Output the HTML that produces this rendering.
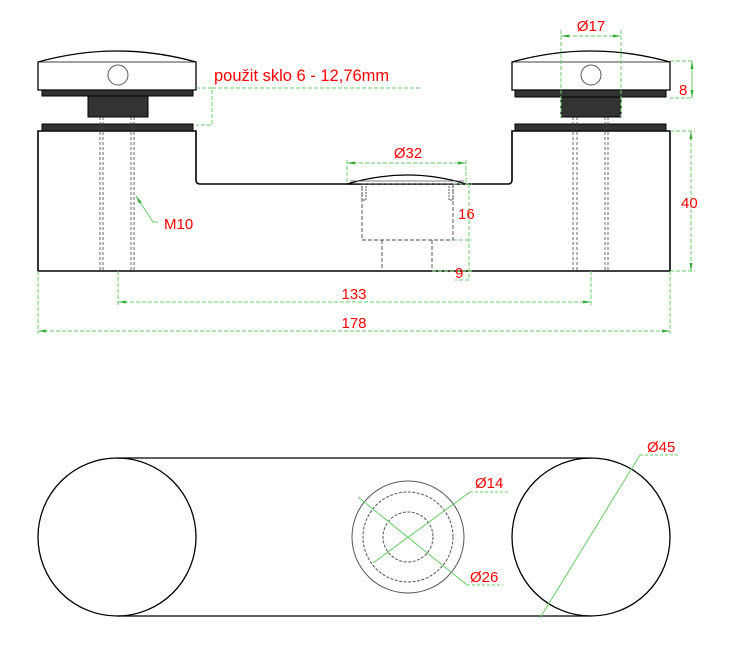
<!DOCTYPE html>
<html><head><meta charset="utf-8"><style>
html,body{margin:0;padding:0;background:#fff;}
svg{display:block;}
text{font-family:"Liberation Sans",sans-serif;fill:#f00;}
</style></head><body>
<svg width="749" height="645" viewBox="0 0 749 645" xmlns="http://www.w3.org/2000/svg">
<defs>
<marker id="a" markerWidth="8" markerHeight="6" refX="8" refY="3" orient="auto"><path d="M0,1.5 L8,3 L0,4.5z" fill="#3a3"/></marker>
<marker id="b" markerWidth="8" markerHeight="6" refX="0" refY="3" orient="auto"><path d="M8,1.5 L0,3 L8,4.5z" fill="#3a3"/></marker>
</defs>
<!-- Body -->
<path d="M38,271 L38,131 L196,131 L196,180 Q196,184 200,184 L508,184 Q512,184 512,180 L512,131 L670,131 L670,271 Z" fill="#fff" stroke="#000" stroke-width="1.6"/>
<!-- caps -->
<g stroke="#000" stroke-width="1.3">
<path d="M38,90 L38,62 Q117,40 196,62 L196,90 Z" fill="#fff"/>
<line x1="38" y1="62" x2="196" y2="62" stroke-width="0.8"/>
<path d="M512,90 L512,62 Q591,40 670,62 L670,90 Z" fill="#fff"/>
<line x1="512" y1="62" x2="670" y2="62" stroke-width="0.8"/>
</g>
<circle cx="118" cy="75" r="10" fill="none" stroke="#555" stroke-width="1"/>
<circle cx="591" cy="75" r="10" fill="none" stroke="#555" stroke-width="1"/>
<g fill="#333" stroke="#000" stroke-width="1">
<rect x="42" y="90" width="151" height="6"/>
<rect x="88" y="96" width="60" height="21"/>
<rect x="42" y="124" width="151" height="7"/>
<rect x="515" y="90" width="151" height="7"/>
<rect x="561" y="97" width="60" height="20"/>
<rect x="515" y="124" width="151" height="7"/>
</g>
<!-- bolts dashed -->
<g stroke="#444" stroke-width="0.8" stroke-dasharray="3,2">
<line x1="100" y1="117" x2="100" y2="271"/><line x1="103" y1="117" x2="103" y2="271"/>
<line x1="131" y1="117" x2="131" y2="271"/><line x1="134" y1="117" x2="134" y2="271"/>
<line x1="573" y1="117" x2="573" y2="271"/><line x1="577" y1="117" x2="577" y2="271"/>
<line x1="605" y1="117" x2="605" y2="271"/><line x1="608" y1="117" x2="608" y2="271"/>
</g>
<!-- center cap -->
<path d="M347,184 Q408,166 466,184 Z" fill="#fff" stroke="#000" stroke-width="1.2"/>
<line x1="350" y1="181" x2="464" y2="181" stroke="#555" stroke-width="0.8"/>
<g fill="none" stroke="#444" stroke-width="0.9" stroke-dasharray="4,2">
<rect x="362" y="184" width="91" height="56"/>
<line x1="382" y1="240" x2="382" y2="271"/><line x1="432" y1="240" x2="432" y2="271"/>
<rect x="362" y="184" width="4" height="16" stroke-dasharray="2,1"/>
<rect x="449" y="184" width="4" height="16" stroke-dasharray="2,1"/>
</g>
<!-- dimensions green -->
<g stroke="#6c6" stroke-width="1" stroke-dasharray="4,2" fill="none">
<!-- glass bracket -->
<polyline points="196,88 212,88 212,125 196,125"/>
<line x1="212" y1="88" x2="422" y2="88"/>
<!-- Ø17 -->
<line x1="561" y1="30" x2="561" y2="117"/><line x1="621" y1="30" x2="621" y2="117"/>
<line x1="561" y1="36" x2="621" y2="36" marker-start="url(#b)" marker-end="url(#a)"/>
<!-- 8 -->
<polyline points="670,61 692,61 692,98 670,98"/>
<line x1="692" y1="61" x2="692" y2="98" marker-start="url(#b)" marker-end="url(#a)"/>
<!-- 40 -->
<line x1="670" y1="131" x2="695" y2="131"/><line x1="670" y1="271" x2="695" y2="271"/>
<line x1="691" y1="131" x2="691" y2="271" marker-start="url(#b)" marker-end="url(#a)"/>
<!-- Ø32 -->
<line x1="347" y1="160" x2="347" y2="184"/><line x1="466" y1="160" x2="466" y2="184"/>
<line x1="347" y1="163" x2="466" y2="163" marker-start="url(#b)" marker-end="url(#a)"/>
<!-- 16 / 9 -->
<line x1="453" y1="184" x2="472" y2="184"/><line x1="453" y1="240" x2="472" y2="240"/>
<line x1="432" y1="271" x2="472" y2="271"/>
<polyline points="469,184 469,280 455,280"/>
<!-- 133 -->
<line x1="118" y1="271" x2="118" y2="305"/><line x1="591" y1="271" x2="591" y2="305"/>
<line x1="118" y1="302" x2="591" y2="302" marker-start="url(#b)" marker-end="url(#a)"/>
<!-- 178 -->
<line x1="38" y1="271" x2="38" y2="334"/><line x1="670" y1="271" x2="670" y2="334"/>
<line x1="38" y1="331" x2="670" y2="331" marker-start="url(#b)" marker-end="url(#a)"/>
</g>
<polyline points="136,196 153,222 158,222" fill="none" stroke="#6c6" stroke-width="1" marker-start="url(#b)"/>
<!-- texts top -->
<text x="214" y="81" font-size="16.5">použit sklo 6 - 12,76mm</text>
<text x="591" y="31" font-size="15" text-anchor="middle">Ø17</text>
<text x="679" y="95" font-size="15">8</text>
<text x="681" y="208" font-size="15">40</text>
<text x="408" y="158" font-size="15" text-anchor="middle">Ø32</text>
<text x="458" y="219" font-size="15">16</text>
<text x="455" y="278" font-size="15">9</text>
<text x="354" y="299" font-size="15" text-anchor="middle">133</text>
<text x="354" y="328" font-size="15" text-anchor="middle">178</text>
<text x="164" y="229" font-size="15">M10</text>
<!-- bottom view -->
<g fill="none" stroke="#000" stroke-width="1.3">
<circle cx="117" cy="537" r="79"/>
<circle cx="591" cy="537" r="79"/>
<line x1="117" y1="458" x2="591" y2="458"/>
<line x1="117" y1="616" x2="591" y2="616"/>
</g>
<circle cx="408" cy="537" r="56" fill="none" stroke="#555" stroke-width="1"/>
<circle cx="408" cy="537" r="45" fill="none" stroke="#555" stroke-width="1" stroke-dasharray="3,1.5"/>
<circle cx="408" cy="537" r="25" fill="none" stroke="#555" stroke-width="1" stroke-dasharray="3,1.5"/>
<g stroke="#6c6" stroke-width="1" fill="none">
<line x1="373" y1="563" x2="470" y2="492"/>
<line x1="470" y1="492" x2="508" y2="492" stroke-dasharray="3,2"/>
<line x1="358" y1="497" x2="467" y2="585"/>
<line x1="467" y1="585" x2="503" y2="585" stroke-dasharray="3,2"/>
<line x1="540" y1="618" x2="640" y2="455"/>
<line x1="640" y1="455" x2="680" y2="455" stroke-dasharray="3,2"/>
</g>
<text x="475" y="488" font-size="15">Ø14</text>
<text x="470" y="582" font-size="15">Ø26</text>
<text x="647" y="452" font-size="15">Ø45</text>
</svg>
</body></html>
